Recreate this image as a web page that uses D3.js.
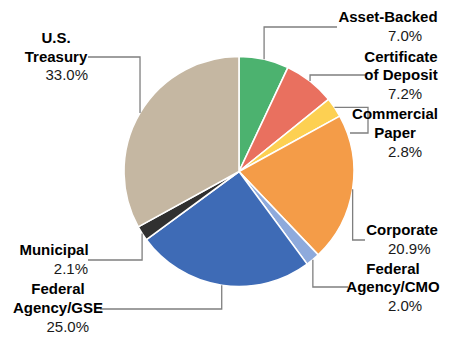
<!DOCTYPE html>
<html>
<head>
<meta charset="utf-8">
<script src="https://cdn.jsdelivr.net/npm/d3@7"></script>
<style>
  html, body { margin: 0; padding: 0; background: #fff; }
  svg { display: block; }
  text { font-family: "Liberation Sans", Arial, sans-serif; }
</style>
</head>
<body>
<svg id="chart" width="450" height="339"></svg>
<script>
// Portfolio allocation by sector (percent of total)
const categories = [
  "Asset-Backed", "Certificate of Deposit", "Commercial Paper", "Corporate",
  "Federal Agency/CMO", "Federal Agency/GSE", "Municipal", "U.S. Treasury"
];
const values = [7.0, 7.2, 2.8, 20.9, 2.0, 25.0, 2.1, 33.0];
const labelLines = [
  ["Asset-Backed"],
  ["Certificate", "of Deposit"],
  ["Commercial", "Paper"],
  ["Corporate"],
  ["Federal", "Agency/CMO"],
  ["Federal", "Agency/GSE"],
  ["Municipal"],
  ["U.S.", "Treasury"]
];
const colors = ["#4cb26f", "#e9705f", "#fdd052", "#f49c48", "#8eaadc", "#3e6bb6", "#303030", "#c5b7a2"];

// Layout
const cx = 239, cy = 171.5, radius = 115;
const lineH = 18.8;

// Label placement: name block centre, first baseline, percent anchor,
// and the elbow route of each leader (v = vertical to y, h = horizontal to x)
const labelLayout = [
  { nameX: 388, y: 21.7, pctX: 388, pctAnchor: "start", route: [["v", 27], ["h", 337]] },
  { nameX: 401, y: 61.5, pctX: 388, pctAnchor: "start", route: [["v", 75], ["h", 365]] },
  { nameX: 395, y: 119.3, pctX: 388, pctAnchor: "start", route: [["h", 368], ["v", 133], ["h", 350]] },
  { nameX: 402, y: 235, pctX: 388, pctAnchor: "start", route: [["v", 240], ["h", 365]] },
  { nameX: 393, y: 273.5, pctX: 388, pctAnchor: "start", route: [["v", 287], ["h", 348]] },
  { nameX: 58, y: 294, pctX: 89, pctAnchor: "end", route: [["v", 309], ["h", 100]] },
  { nameX: 54, y: 255, pctX: 88, pctAnchor: "end", route: [["v", 260], ["h", 88]] },
  { nameX: 56, y: 42.7, pctX: 88, pctAnchor: "end", route: [["v", 57], ["h", 88]] }
];

const data = categories.map((c, i) => ({ category: c, value: values[i], lines: labelLines[i], color: colors[i], layout: labelLayout[i] }));

const svg = d3.select("#chart");

const pie = d3.pie().sort(null).value(d => d.value).startAngle(0).endAngle(2 * Math.PI);
const arc = d3.arc().innerRadius(0).outerRadius(radius);
const arcs = pie(data);

const g = svg.append("g").attr("transform", `translate(${cx},${cy})`);

g.selectAll("path.slice")
  .data(arcs)
  .join("path")
  .attr("class", "slice")
  .attr("d", arc)
  .attr("fill", d => d.data.color)
  .attr("stroke", "#ffffff")
  .attr("stroke-width", 1.6)
  .attr("stroke-linejoin", "round");

// Leader lines start at the outer midpoint of each slice
const leaders = svg.append("g");
arcs.forEach(d => {
  const mid = (d.startAngle + d.endAngle) / 2;
  let x = cx + Math.sin(mid) * radius;
  let y = cy - Math.cos(mid) * radius;
  const pts = [[x, y]];
  d.data.layout.route.forEach(([cmd, v]) => {
    if (cmd === "v") y = v; else x = v;
    pts.push([x, y]);
  });
  leaders.append("path")
    .attr("d", d3.line()(pts))
    .attr("fill", "none")
    .attr("stroke", "#7f7f7f")
    .attr("stroke-width", 1.3);
});

// Labels: category name (bold) and share
const labels = svg.append("g");
data.forEach(d => {
  const L = d.layout;
  d.lines.forEach((t, j) => {
    labels.append("text")
      .attr("x", L.nameX)
      .attr("y", L.y + j * lineH)
      .attr("text-anchor", "middle")
      .attr("font-size", 15)
      .attr("font-weight", "bold")
      .attr("fill", "#000")
      .text(t);
  });
  labels.append("text")
    .attr("x", L.pctX)
    .attr("y", L.y + d.lines.length * lineH)
    .attr("text-anchor", L.pctAnchor)
    .attr("font-size", 15)
    .attr("fill", "#1a1a1a")
    .text(d.value.toFixed(1) + "%");
});
</script>
</body>
</html>
